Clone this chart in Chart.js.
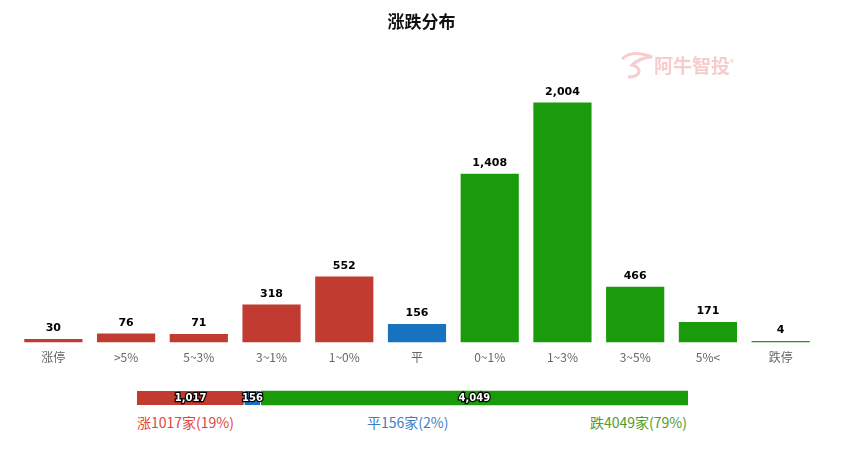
<!DOCTYPE html>
<html>
<head>
<meta charset="utf-8">
<script src="https://cdn.jsdelivr.net/npm/chart.js"></script>
<style>
  body { margin: 0; background: #fff; font-family: "Noto Sans CJK SC", "Noto Sans", sans-serif; }
  #wrap { position: relative; width: 843px; height: 452px; overflow: hidden; }
  #title { position: absolute; top: 8px; left: 0; width: 843px; text-align: center; font-size: 17px; font-weight: bold; color: #111; }
  #mark { position: absolute; left: 620px; top: 51px; color: #f7cccc; font-size: 19px; font-weight: bold; }
  #mark sup { font-size: 9px; font-weight: normal; }
  #main { position: absolute; left: 0; top: 0; }
  #sum { position: absolute; left: 0; top: 384px; }
  .lbl { position: absolute; top: 412px; font-size: 14px; }
</style>
</head>
<body>
<div id="wrap">
  <canvas id="main" width="843" height="371"></canvas>
  <div id="title">涨跌分布</div>
  <div id="mark">
    <svg width="34" height="30" style="vertical-align:-8px"><path d="M2 8 C10 0 22 2 32 6 C24 6 16 10 12 14 C22 16 22 26 8 26" fill="none" stroke="#f7cccc" stroke-width="3"/></svg>阿牛智投<sup>®</sup>
  </div>
  <canvas id="sum" width="843" height="28"></canvas>
  <div class="lbl" style="left:137px;color:#e0463e;">涨1017家(19%)</div>
  <div class="lbl" style="left:367px;color:#3a7fc6;">平156家(2%)</div>
  <div class="lbl" style="right:156px;color:#4e9c2a;">跌4049家(79%)</div>
</div>
<script>
// main distribution
const categories = ['涨停', '>5%', '5~3%', '3~1%', '1~0%', '平', '0~1%', '1~3%', '3~5%', '5%<', '跌停'];
const counts = [30, 76, 71, 318, 552, 156, 1408, 2004, 466, 171, 4];

// summary bar
const sumNames = ['涨', '平', '跌'];
const sumValues = [1017, 156, 4049];

const red = '#c23b31';
const blue = '#1773c0';
const green = '#1a9b0b';
const barColors = [red, red, red, red, red, blue, green, green, green, green, green];
const sumColors = [red, blue, green];

function fmt(v) {
  return v.toLocaleString('en-US');
}

// value labels over the bars
const topLabels = {
  id: 'topLabels',
  afterDatasetsDraw(chart) {
    const ctx = chart.ctx;
    const meta = chart.getDatasetMeta(0);
    ctx.save();
    ctx.font = 'bold 11px "DejaVu Sans", sans-serif';
    ctx.fillStyle = '#000';
    ctx.textAlign = 'center';
    ctx.textBaseline = 'bottom';
    meta.data.forEach(function (bar, i) {
      ctx.fillText(fmt(counts[i]), bar.x, bar.y - 5);
    });
    ctx.restore();
  }
};

new Chart(document.getElementById('main'), {
  type: 'bar',
  data: {
    labels: categories,
    datasets: [{
      data: counts,
      backgroundColor: barColors,
      barPercentage: 0.8,
      categoryPercentage: 1,
      minBarLength: 1.5
    }]
  },
  options: {
    responsive: false,
    animation: false,
    layout: { padding: { left: 17, right: 26, top: 55, bottom: 6 } },
    plugins: { legend: { display: false }, tooltip: { enabled: false } },
    scales: {
      x: {
        grid: { display: false },
        border: { display: false },
        ticks: { color: '#666', font: { size: 12, family: '"Noto Sans CJK SC", sans-serif' }, padding: 0 }
      },
      y: { display: false, min: 0, max: 2400 }
    }
  },
  plugins: [topLabels]
});

// labels inside summary segments
const segLabels = {
  id: 'segLabels',
  afterDatasetsDraw(chart) {
    const ctx = chart.ctx;
    ctx.save();
    ctx.font = 'bold 10px "DejaVu Sans", sans-serif';
    ctx.textAlign = 'center';
    ctx.textBaseline = 'middle';
    ctx.lineWidth = 2.5;
    ctx.strokeStyle = '#000';
    ctx.fillStyle = '#fff';
    chart.data.datasets.forEach(function (ds, i) {
      const bar = chart.getDatasetMeta(i).data[0];
      const cx = (bar.x + bar.base) / 2;
      ctx.strokeText(fmt(sumValues[i]), cx, bar.y);
      ctx.fillText(fmt(sumValues[i]), cx, bar.y);
    });
    ctx.restore();
  }
};

const total = sumValues.reduce(function (a, b) { return a + b; }, 0);

new Chart(document.getElementById('sum'), {
  type: 'bar',
  data: {
    labels: ['all'],
    datasets: sumValues.map(function (v, i) {
      return {
        label: sumNames[i],
        data: [v],
        backgroundColor: sumColors[i],
        borderColor: '#fff',
        borderWidth: i < 2 ? { right: 1 } : 0,
        borderSkipped: false,
        barThickness: 14
      };
    })
  },
  options: {
    indexAxis: 'y',
    responsive: false,
    animation: false,
    layout: { padding: { left: 137, right: 155, top: 0, bottom: 0 } },
    plugins: { legend: { display: false }, tooltip: { enabled: false } },
    scales: {
      x: { display: false, stacked: true, min: 0, max: total },
      y: { display: false, stacked: true }
    }
  },
  plugins: [segLabels]
});
</script>
</body>
</html>
